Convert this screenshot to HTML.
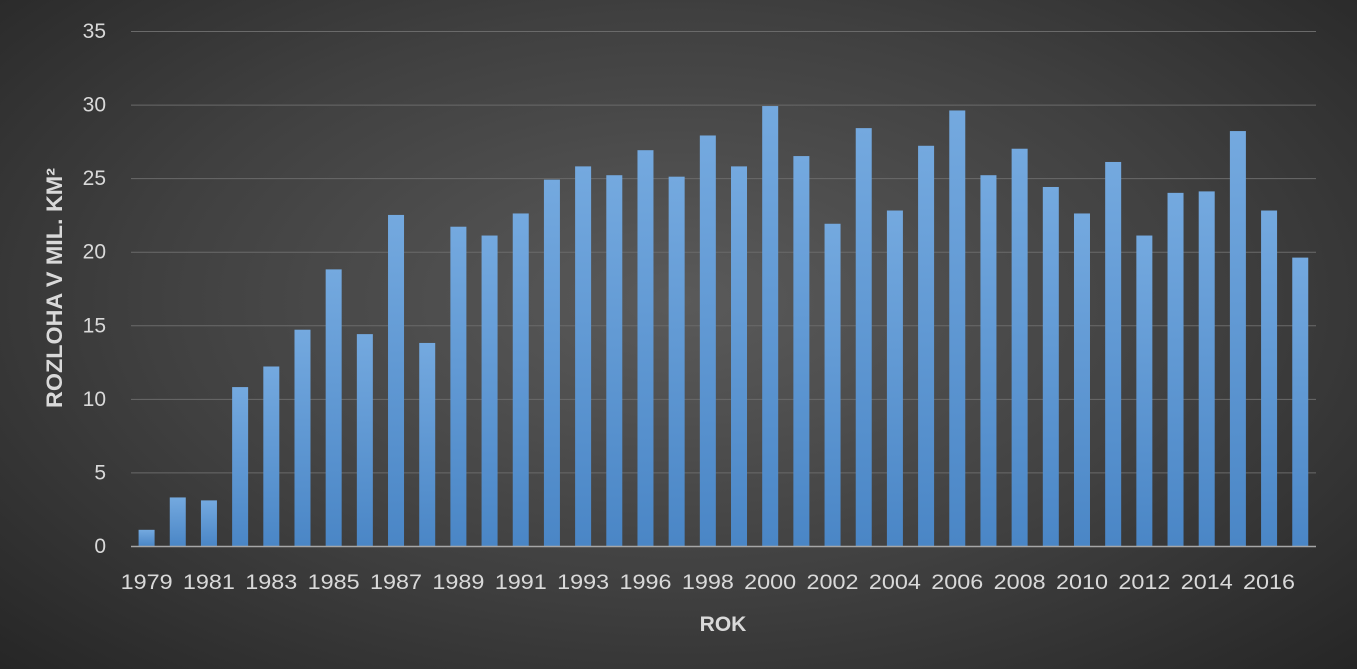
<!DOCTYPE html>
<html><head><meta charset="utf-8"><style>
html,body{margin:0;padding:0;}
body{width:1357px;height:669px;overflow:hidden;background:radial-gradient(ellipse at 50% 45%,#5a5a5a 0%,#404040 55%,#262626 100%);}
svg{display:block;font-family:"Liberation Sans",Arial,sans-serif;}
</style></head><body>
<svg width="1357" height="669" xmlns="http://www.w3.org/2000/svg">
<defs><linearGradient id="g" x1="0" y1="0" x2="0" y2="1"><stop offset="0" stop-color="#74a9df"/><stop offset="1" stop-color="#4a86c6"/></linearGradient></defs>
<g id="grid" stroke="#6a6a6a" stroke-width="1"></g>
<g id="bars"></g>
<line x1="131" y1="546.5" x2="1316" y2="546.5" stroke="#a6a6a6" stroke-width="1.5"/>
<g id="ylab" fill="#d9d9d9" font-size="21" text-anchor="end"></g>
<g id="xlab" fill="#d9d9d9" font-size="21" text-anchor="middle"></g>
<text x="723" y="631" fill="#d9d9d9" font-size="21" font-weight="bold" text-anchor="middle">ROK</text>
<text transform="translate(62,288) rotate(-90)" fill="#d9d9d9" font-size="22" font-weight="bold" text-anchor="middle" textLength="240" lengthAdjust="spacingAndGlyphs">ROZLOHA V MIL. KM²</text>
</svg>
<script>
var v=[1.1,3.3,3.1,10.8,12.2,14.7,18.8,14.4,22.5,13.8,21.7,21.1,22.6,24.9,25.8,25.2,26.9,25.1,27.9,25.8,29.9,26.5,21.9,28.4,22.8,27.2,29.6,25.2,27.0,24.4,22.6,26.1,21.1,24.0,24.1,28.2,22.8,19.6];
var yrs=[1979,1980,1981,1982,1983,1984,1985,1986,1987,1988,1989,1990,1991,1992,1993,1994,1996,1997,1998,1999,2000,2001,2002,2003,2004,2005,2006,2007,2008,2009,2010,2011,2012,2013,2014,2015,2016,2017];
var ns="http://www.w3.org/2000/svg",s=14.714,y0=546,x0=131,w=31.18;
function el(p,t,a,txt){var e=document.createElementNS(ns,t);for(var k in a)e.setAttribute(k,a[k]);if(txt!=null)e.textContent=txt;document.getElementById(p).appendChild(e);}
for(var i=1;i<=7;i++){var y=y0-i*5*s;el('grid','line',{x1:131,x2:1316,y1:y+.5,y2:y+.5});}
for(var i=0;i<=7;i++){el('ylab','text',{x:106,y:y0-i*5*s+7},String(i*5));}
for(var i=0;i<v.length;i++){var cx=x0+w*(i+.5),h=v[i]*s;el('bars','rect',{x:cx-8,y:y0-h,width:16,height:h,fill:'url(#g)'});
if(i%2==0)el('xlab','text',{x:cx,y:589,textLength:52,lengthAdjust:'spacingAndGlyphs'},String(yrs[i]));}
</script>
</body></html>
